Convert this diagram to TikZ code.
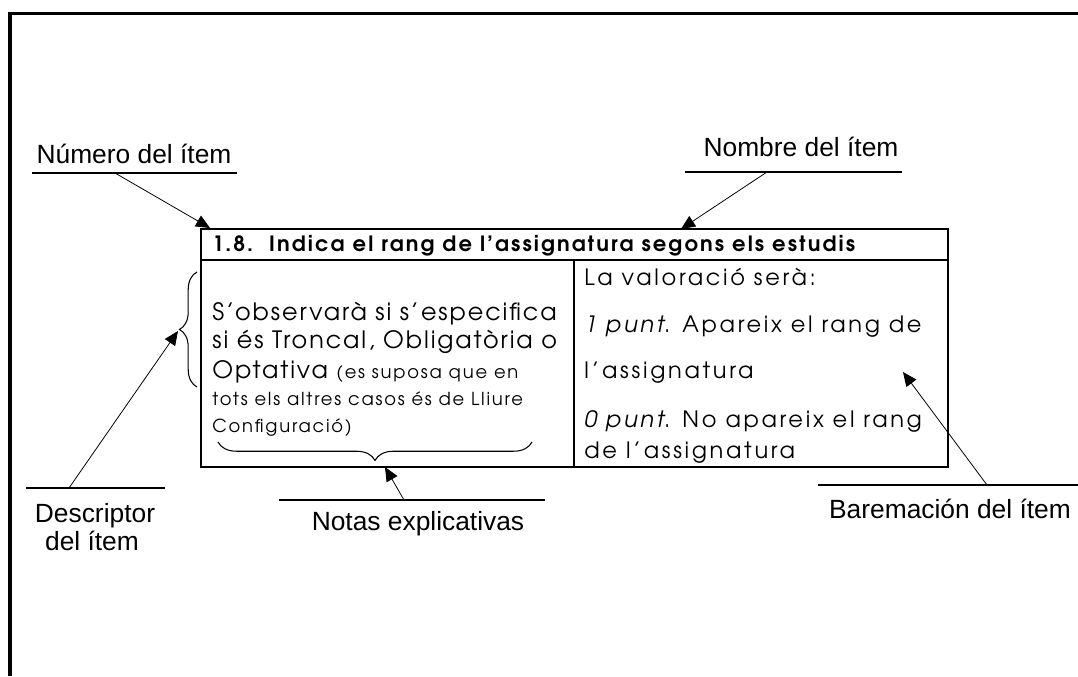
\documentclass[tikz,border=0pt]{standalone}
\usepackage{fontspec}
\setmainfont{Liberation Sans}
\newfontfamily\gothicH[LetterSpace=10]{TeX Gyre Adventor}
\newfontfamily\gothicB[LetterSpace=8]{TeX Gyre Adventor}
\newfontfamily\gothicS[LetterSpace=10]{TeX Gyre Adventor}
\newfontfamily\gothicV[LetterSpace=12]{TeX Gyre Adventor}
\usetikzlibrary{arrows.meta, decorations.pathreplacing, positioning}

\begin{document}
\begin{tikzpicture}[x=0.02cm, y=-0.02cm,
    lbl/.style={font=\fontsize{15}{18}\selectfont, inner sep=0pt, anchor=base},
    hdr/.style={font=\gothicH\bfseries\fontsize{12}{14}\selectfont, inner sep=0pt, anchor=base west},
    big/.style={font=\gothicB\fontsize{13.6}{16}\selectfont, inner sep=0pt, anchor=base west},
    small/.style={font=\gothicS\fontsize{10.2}{12}\selectfont, inner sep=0pt, anchor=base west},
    val/.style={font=\gothicV\fontsize{12.8}{15}\selectfont, inner sep=0pt, anchor=base west},
    rule/.style={line width=0.6pt},
    ptr/.style={line width=0.45pt, -{Triangle[length=8pt, width=7pt]}},
    brc/.style={line width=0.6pt, decorate, decoration={brace, amplitude=#1}}
  ]
  \useasboundingbox (0,0) rectangle (1078,676);

  % outer frame (cut at right and bottom)
  \draw[line width=2pt] (10,676) |- (1078,13.5);

  % item table
  \draw[rule] (201,229) rectangle (948,467);
  \draw[rule] (201,260) -- (948,260);
  \draw[rule] (574,260) -- (574,467);
  \node[hdr] (head) at (212,251) {1.8.\ \ Indica el rang de l’assignatura segons els estudis};

  % left column: descriptor
  \node[big] (d1) at (212,320) {S’observarà si s’especifica};
  \node[big] (d2) at (212,348) {si és Troncal, Obligatòria o};
  \node[big] (d3) at (212,378) {Optativa {\gothicS\fontsize{10.2}{12}\selectfont (es suposa que en}};
  \node[small] (d4) at (212,405) {tots els altres casos és de Lliure};
  \node[small] (d5) at (212,432) {Configuració)};

  % right column: scoring
  \foreach \y/\t [count=\i] in {285/{La valoració serà:},
                               332/{\textit{1 punt}. Apareix el rang de},
                               378/{l’assignatura},
                               427/{\textit{0 punt}. No apareix el rang},
                               458/{de l’assignatura}} {
    \node[val] (v\i) at (584,\y) {\t};
  }

  % braces
  \draw[brc=10pt] (197,387) -- (197,272);
  \draw[brc=10.5pt] (532,442) -- (218,442);

  % callout labels
  \node[lbl] (num) at (134,163) {Número del ítem};
  \node[lbl] (nom) at (801,156) {Nombre del ítem};
  \node[lbl] (des1) at (95,522) {Descriptor};
  \node[lbl] (des2) at (92,550) {del ítem};
  \node[lbl] (not) at (418,530) {Notas explicativas};
  \node[lbl] (bar) at (950,518) {Baremación del ítem};

  % underlines and pointer ends
  \coordinate (numL) at (32,173);  \coordinate (numR) at (237,173);
  \coordinate (nomL) at (685,172); \coordinate (nomR) at (902,172);
  \coordinate (desL) at (26,488);  \coordinate (desR) at (165,488);
  \coordinate (notL) at (279,500); \coordinate (notR) at (545,500);
  \coordinate (barL) at (818,485); \coordinate (barR) at (1078,485);
  \foreach \a in {num, nom, des, not, bar} {
    \draw[rule] (\a L) -- (\a R);
  }

  \coordinate (numS) at (115,173); \coordinate (numT) at (210,228);
  \coordinate (nomS) at (767,172); \coordinate (nomT) at (681,229);
  \coordinate (desS) at (69,488);  \coordinate (desT) at (178,331);
  \coordinate (notS) at (404,500); \coordinate (notT) at (385,467);
  \coordinate (barS) at (987,485); \coordinate (barT) at (903,372);
  \foreach \a in {num, nom, des, not, bar} {
    \draw[ptr] (\a S) -- (\a T);
  }
\end{tikzpicture}
\end{document}
